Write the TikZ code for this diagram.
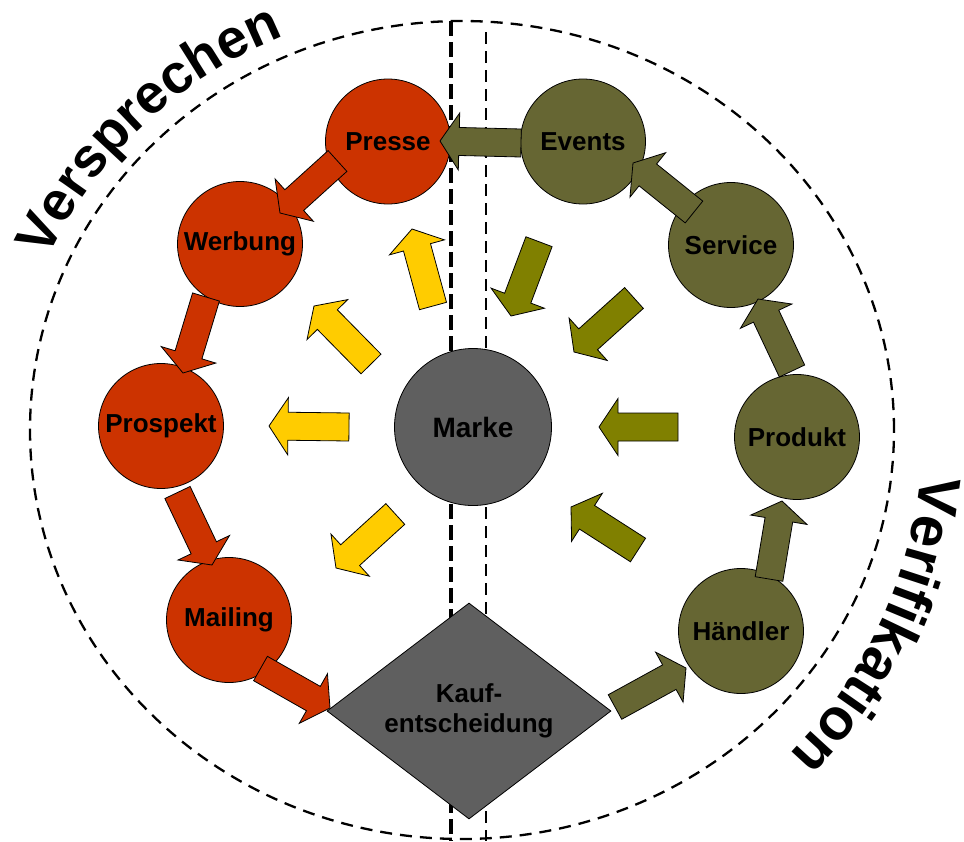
\documentclass[tikz,border=0pt]{standalone}
\usepackage{fontspec}
\setmainfont{Liberation Sans}
\usetikzlibrary{calc,shapes.geometric,decorations.text}

\definecolor{promisered}{HTML}{CC3300}
\definecolor{proofolive}{HTML}{666633}
\definecolor{inwardolive}{HTML}{808000}
\definecolor{brandyellow}{HTML}{FFCC00}
\definecolor{brandgray}{HTML}{5F5F5F}

\newcommand\labelfont{\fontsize{26}{30}\selectfont\bfseries}
\newcommand\brandfont{\fontsize{28}{30}\selectfont\bfseries}
\newcommand\arcfont{\fontsize{55}{55}\selectfont\bfseries}
\newcommand\arcfontright{\fontsize{58}{58}\selectfont\bfseries}

% Broad block arrow from a tail coordinate to a tip coordinate:
% shaft half-width 14, head half-width 28.5, head length 19.
\newcommand\blockarrow[3]{%
  \filldraw[fatarrow,#1] let \p1=(#2), \p2=(#3),
      \n1={atan2(\y2-\y1,\x2-\x1)},
      \n2={veclen(\x2-\x1,\y2-\y1)-19} in
    ($(\p1)+(\n1+90:14)$) --
    ($(\p1)+(\n1:\n2)+(\n1+90:14)$) --
    ($(\p1)+(\n1:\n2)+(\n1+90:28.5)$) --
    (\p2) --
    ($(\p1)+(\n1:\n2)+(\n1-90:28.5)$) --
    ($(\p1)+(\n1:\n2)+(\n1-90:14)$) --
    ($(\p1)+(\n1-90:14)$) -- cycle;}

\begin{document}
\begin{tikzpicture}[x=1pt, y=1pt,
  hub/.style={circle, draw=black, line width=0.8pt, minimum size=125pt,
    inner sep=0pt, font=\labelfont},
  promise/.style={hub, fill=promisered},
  proof/.style={hub, fill=proofolive},
  brand/.style={hub, fill=brandgray, minimum size=157pt, font=\brandfont},
  decision/.style={diamond, aspect=1.315, draw=black, line width=0.8pt,
    fill=brandgray, minimum width=284pt, minimum height=216pt,
    inner sep=0pt, align=center, font=\labelfont},
  fatarrow/.style={draw=black, line width=0.8pt, line join=miter},
  ring/.style={draw=black, dash pattern=on 12pt off 8pt, line width=2.3pt},
  seamthick/.style={draw=black, dash pattern=on 15pt off 6pt, line width=3.2pt},
  seamthin/.style={draw=black, dash pattern=on 12pt off 7pt, line width=1.2pt},
  arctext/.style={decorate, decoration={text along path, text align=left}},
]
\useasboundingbox (0,0) rectangle (964,-841);

% outer boundary and the seam between the two halves
\coordinate (ringcenter) at (462,-430);
\draw[ring] (ringcenter) ellipse [x radius=432, y radius=409];
\coordinate (seamtop) at (451,-21);
\coordinate (seambottom) at (451,-841);
\coordinate (seamtop2) at (486,-32);
\coordinate (seambottom2) at (486,-841);
\draw[seamthick] (seamtop) -- (seambottom);
\draw[seamthin] (seamtop2) -- (seambottom2);

% nodes
\node[promise] (presse)   at (388,-141.5) {Presse};
\node[promise] (werbung)  at (240,-244)   {Werbung};
\node[promise] (prospekt) at (161,-426)   {Prospekt};
\node[promise] (mailing)  at (229,-620)   {Mailing};
\node[proof]   (events)   at (583,-141.5) {Events};
\node[proof]   (service)  at (731,-245)   {Service};
\node[proof]   (produkt)  at (797,-437)   {Produkt};
\node[proof]   (haendler) at (741,-631)   {Händler};
\node[brand]   (marke)    at (473,-427)   {Marke};
\node[decision] (kauf)    at (469,-711)   {Kauf-\\entscheidung};

% arrow end points
\coordinate (pw1) at (337.5,-161);  \coordinate (pw2) at (280,-213);
\coordinate (wp1) at (206,-297);    \coordinate (wp2) at (183,-373);
\coordinate (pm1) at (177.5,-492.5);\coordinate (pm2) at (212,-565);
\coordinate (mk1) at (260.5,-668.5);\coordinate (mk2) at (330,-708);
\coordinate (kh1) at (615,-707);    \coordinate (kh2) at (686,-668);
\coordinate (hp1) at (769,-579);    \coordinate (hp2) at (782,-501);
\coordinate (ps1) at (792,-371);    \coordinate (ps2) at (758,-299);
\coordinate (se1) at (694,-212);    \coordinate (se2) at (633,-163);
\coordinate (ep1) at (521,-143);    \coordinate (ep2) at (440,-141);

\coordinate (my1) at (433,-306);    \coordinate (my2) at (412,-229);
\coordinate (my3) at (371,-364);    \coordinate (my4) at (314,-306);
\coordinate (my5) at (349,-427);    \coordinate (my6) at (269,-426);
\coordinate (my7) at (395.3,-514);  \coordinate (my8) at (336,-568);

\coordinate (mo1) at (539,-241.7);  \coordinate (mo2) at (511,-316);
\coordinate (mo3) at (634,-298);    \coordinate (mo4) at (574,-352);
\coordinate (mo5) at (678,-427);    \coordinate (mo6) at (599,-427);
\coordinate (mo7) at (638,-550);    \coordinate (mo8) at (571,-507);

% promise chain
\blockarrow{fill=promisered}{pw1}{pw2}
\blockarrow{fill=promisered}{wp1}{wp2}
\blockarrow{fill=promisered}{pm1}{pm2}
\blockarrow{fill=promisered}{mk1}{mk2}
% verification chain
\blockarrow{fill=proofolive}{kh1}{kh2}
\blockarrow{fill=proofolive}{hp1}{hp2}
\blockarrow{fill=proofolive}{ps1}{ps2}
\blockarrow{fill=proofolive}{se1}{se2}
\blockarrow{fill=proofolive}{ep1}{ep2}
% brand radiating outward
\blockarrow{fill=brandyellow}{my1}{my2}
\blockarrow{fill=brandyellow}{my3}{my4}
\blockarrow{fill=brandyellow}{my5}{my6}
\blockarrow{fill=brandyellow}{my7}{my8}
% experience flowing back into the brand
\blockarrow{fill=inwardolive}{mo1}{mo2}
\blockarrow{fill=inwardolive}{mo3}{mo4}
\blockarrow{fill=inwardolive}{mo5}{mo6}
\blockarrow{fill=inwardolive}{mo7}{mo8}

% curved headings
\path[arctext, decoration={text={|\arcfont|Versprechen}}]
  ($(ringcenter)+(156.5:452 and 429)$)
  arc[start angle=156.5, end angle=100, x radius=452, y radius=429];
\path[arctext, decoration={text={|\arcfontright|Verifikation}}]
  ($(ringcenter)+(-5.5:461)$)
  arc[start angle=-5.5, end angle=-58, radius=461];
\end{tikzpicture}
\end{document}
